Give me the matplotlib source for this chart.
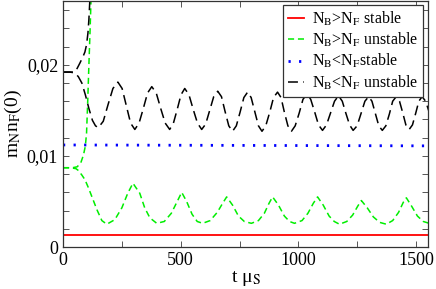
import matplotlib
matplotlib.use("Agg")
import matplotlib.pyplot as plt
from matplotlib.ticker import MultipleLocator

plt.rcParams['font.family'] = ['Liberation Serif', 'DejaVu Serif']
plt.rcParams['mathtext.fontset'] = 'stix'

# --- data ---
labels = [r'N$_\mathrm{B}$>N$_\mathrm{F}$ stable',
          r'N$_\mathrm{B}$>N$_\mathrm{F}$ unstable',
          r'N$_\mathrm{B}$<N$_\mathrm{F}$stable',
          r'N$_\mathrm{B}$<N$_\mathrm{F}$ unstable']

red_t = [0, 1555]
red_v = [0.00135, 0.00135]

blue_t = [0, 1555]
blue_v = [0.0112, 0.0111]

green_up_t = [0, 40, 60, 75, 87, 95, 100, 105, 110, 115, 120]
green_up_v = [0.0087, 0.0087, 0.0088, 0.0092, 0.0101, 0.0111, 0.0125, 0.0160, 0.0200, 0.0238, 0.0280]

green_t = [0, 30, 55, 65, 80, 93, 108, 123, 144, 165, 186,
           220, 250, 275, 297, 326, 347, 369, 398,
           430, 460, 485, 504, 525, 548, 570, 593,
           625, 655, 678, 695, 720, 745, 770, 800,
           830, 855, 875, 890, 915, 940, 962, 983,
           1015, 1040, 1063, 1081, 1105, 1130, 1152, 1174,
           1205, 1230, 1252, 1267, 1292, 1318, 1345, 1373,
           1400, 1425, 1445, 1458, 1480, 1505, 1530, 1555]
green_v = [0.0087, 0.0087, 0.0086, 0.0084, 0.0079, 0.0074, 0.0065, 0.0055, 0.0041, 0.0029, 0.0025,
           0.0030, 0.0043, 0.0059, 0.0070, 0.0059, 0.0043, 0.0032, 0.0026,
           0.0028, 0.0037, 0.0050, 0.0060, 0.0050, 0.0036, 0.0028, 0.0026,
           0.0029, 0.0038, 0.0048, 0.0055, 0.0046, 0.0034, 0.0028, 0.0026,
           0.0029, 0.0037, 0.0048, 0.0055, 0.0046, 0.0034, 0.0028, 0.0026,
           0.0029, 0.0037, 0.0048, 0.0055, 0.0046, 0.0034, 0.0028, 0.0025,
           0.0028, 0.0035, 0.0045, 0.0051, 0.0043, 0.0033, 0.0027, 0.0025,
           0.0029, 0.0038, 0.0049, 0.0054, 0.0045, 0.0034, 0.0028, 0.0026]

black_up_t = [0, 30, 50, 60, 72, 85, 93, 100, 106, 110, 114, 118]
black_up_v = [0.0192, 0.0192, 0.0192, 0.0196, 0.0202, 0.0209, 0.0214, 0.0222, 0.0235, 0.0250, 0.0271, 0.0295]

black_t = [0, 30, 50, 65, 80, 95, 110, 125, 138, 150,
           171, 191, 212, 233, 251, 269, 287, 305,
           323, 341, 359, 377, 396, 415, 434, 453,
           469, 485, 501, 517, 535, 553, 571, 589,
           606, 623, 640, 657, 673, 688, 704, 720,
           736, 752, 768, 784, 799, 815, 830, 845,
           861, 878, 894, 911, 926, 940, 955, 970,
           986, 1003, 1019, 1036, 1052, 1069, 1085, 1102,
           1119, 1136, 1153, 1170, 1186, 1201, 1217, 1232,
           1249, 1265, 1282, 1298, 1312, 1327, 1341, 1356,
           1371, 1386, 1400, 1415, 1429, 1443, 1456, 1470,
           1484, 1498, 1511, 1525, 1540, 1555]
black_v = [0.0192, 0.0192, 0.0191, 0.0187, 0.0180, 0.0167, 0.0152, 0.0139, 0.0133, 0.0131,
           0.0138, 0.0156, 0.0174, 0.0181, 0.0174, 0.0155, 0.0136, 0.0129,
           0.0136, 0.0152, 0.0169, 0.0176, 0.0169, 0.0152, 0.0136, 0.0129,
           0.0136, 0.0151, 0.0167, 0.0174, 0.0167, 0.0151, 0.0136, 0.0129,
           0.0135, 0.0150, 0.0165, 0.0171, 0.0165, 0.0149, 0.0133, 0.0127,
           0.0133, 0.0148, 0.0164, 0.0170, 0.0164, 0.0148, 0.0133, 0.0127,
           0.0133, 0.0148, 0.0164, 0.0170, 0.0164, 0.0148, 0.0133, 0.0127,
           0.0133, 0.0147, 0.0162, 0.0168, 0.0162, 0.0148, 0.0134, 0.0128,
           0.0134, 0.0147, 0.0160, 0.0166, 0.0160, 0.0147, 0.0134, 0.0128,
           0.0133, 0.0146, 0.0160, 0.0165, 0.0160, 0.0146, 0.0133, 0.0128,
           0.0133, 0.0146, 0.0160, 0.0165, 0.0160, 0.0147, 0.0134, 0.0129,
           0.0134, 0.0147, 0.0160, 0.0165, 0.0160, 0.0148]

x_ticks = [0, 500, 1000, 1500]
y_ticks = [0, 0.01, 0.02]
y_tick_labels = ['0', '0,01', '0,02']

fig = plt.figure(figsize=(4.36, 2.89), dpi=100)
ax = fig.add_axes([63/436, 1 - 247/289, 365/436, 246/289])

lw = 1.1
ax.plot(red_t, red_v, color='#ff0000', lw=1.3, label=labels[0])
ax.plot(green_t, green_v, color='#00ee00', lw=lw, dashes=(4, 2.5), label=labels[1])
ax.plot(green_up_t, green_up_v, color='#00ee00', lw=lw, dashes=(4, 2.5))
ax.plot(blue_t, blue_v, color='#0000ff', lw=2.0, dashes=(0.8, 3.0), label=labels[2])
ax.plot(black_t, black_v, color='black', lw=lw, dashes=(6.5, 3.5), label=labels[3])
ax.plot(black_up_t, black_up_v, color='black', lw=lw, dashes=(6.5, 3.5))

ax.set_xlim(0, 1550)
ax.set_ylim(0, 0.027)
ax.set_xticks(x_ticks)
ax.set_yticks(y_ticks)
ax.set_yticklabels(y_tick_labels)
ax.xaxis.set_minor_locator(MultipleLocator(250))
ax.yaxis.set_minor_locator(MultipleLocator(0.002))
ax.tick_params(which='both', direction='in', top=True, right=True,
               labelsize=13, width=0.7, color='#555555', length=4)
for s in ax.spines.values():
    s.set_linewidth(0.9)
    s.set_color('#333333')

ax.set_xlabel(r't μ$_\mathrm{S}$', fontsize=14, labelpad=0)
ax.set_ylabel(r'm$_\mathrm{N}$n$_\mathrm{F}$(0)', fontsize=14, labelpad=2)

leg = ax.legend(loc='upper right', bbox_to_anchor=(1 - 5/365, 1 - 4/246),
                borderaxespad=0, fontsize=11.5, handlelength=1.0, handletextpad=0.5,
                labelspacing=0.2, borderpad=0.3, fancybox=False, framealpha=1,
                edgecolor='#333333')
leg.get_frame().set_linewidth(0.9)

fig.savefig('out.png', dpi=100)
